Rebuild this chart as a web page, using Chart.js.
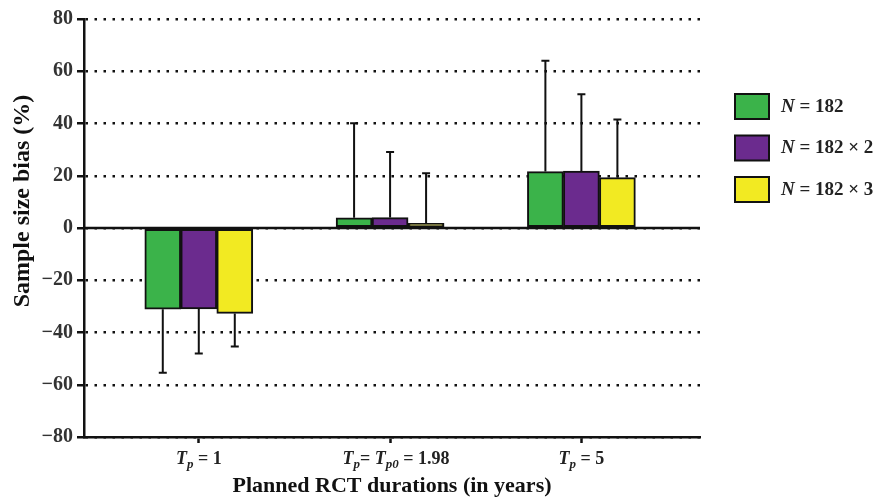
<!DOCTYPE html>
<html>
<head>
<meta charset="utf-8">
<script src="https://cdn.jsdelivr.net/npm/chart.js@4.4.0/dist/chart.umd.min.js"></script>
<style>
body { margin: 0; background: #fff; }
#wrap { width: 877px; height: 502px; }
</style>
</head>
<body>
<div id="wrap"><canvas id="myChart"></canvas></div>
<script>
// group positions on the x axis and their labels (T_p -> T with subscript p)
const groupPos = [1, 2, 3];
const groupLabels = ['T_p = 1', 'T_p= T_p0 = 1.98', 'T_p = 5'];
const seriesNames = ['N = 182', 'N = 182 × 2', 'N = 182 × 3'];
const seriesColors = ['#3bb34a', '#6b2b8e', '#f2ea22'];

// mean bias (%) per group
const meanN1 = [-31.1, 3.9, 21.6];
const meanN2 = [-31.0, 4.0, 21.8];
const meanN3 = [-32.7, 1.8, 19.3];
// one-sided error bar length
const errN1 = [24.3, 36.2, 42.4];
const errN2 = [17.0, 25.1, 29.4];
const errN3 = [12.7, 19.2, 22.2];

const yTicks = [-80, -60, -40, -20, 0, 20, 40, 60, 80];
const yTitle = 'Sample size bias (%)';

const means = [meanN1, meanN2, meanN3];
const errs = [errN1, errN2, errN3];
const FONT = "'Liberation Serif', 'Times New Roman', serif";

// draw text where "T_p" / "T_p0" / "N" get italics (and subscripts)
function drawRich(ctx, text, cx, cy, size) {
    const parts = text.split(/(T_p0|T_p|N)/).filter(s => s.length);
    const pieces = [];
    parts.forEach(p => {
        if (p === 'T_p' || p === 'T_p0') {
            pieces.push({t: 'T', font: 'italic bold ' + size + 'px ' + FONT, dy: 0});
            pieces.push({t: p.slice(2), font: 'italic bold ' + Math.round(size * 0.7) + 'px ' + FONT, dy: size * 0.3});
        } else if (p === 'N') {
            pieces.push({t: 'N', font: 'italic bold ' + size + 'px ' + FONT, dy: 0});
        } else {
            pieces.push({t: p, font: 'bold ' + size + 'px ' + FONT, dy: 0});
        }
    });
    let total = 0;
    pieces.forEach(pc => { ctx.font = pc.font; pc.w = ctx.measureText(pc.t).width; total += pc.w; });
    const x = cx === null ? 0 : cx - total / 2;
    return {draw(startX) {
        let xx = startX === undefined ? x : startX;
        ctx.textBaseline = 'middle';
        ctx.textAlign = 'left';
        pieces.forEach(pc => {
            ctx.font = pc.font;
            ctx.fillText(pc.t, xx, cy + pc.dy);
            xx += pc.w;
        });
    }};
}

const extras = {
    id: 'extras',
    afterDatasetsDraw(chart) {
        const ctx = chart.ctx;
        const ys = chart.scales.y;
        const area = chart.chartArea;
        ctx.save();
        // error bars
        ctx.strokeStyle = '#111';
        ctx.lineWidth = 2;
        chart.data.datasets.forEach((ds, di) => {
            const meta = chart.getDatasetMeta(di);
            meta.data.forEach((bar, i) => {
                const v = means[di][i];
                const sign = v < 0 ? -1 : 1;
                const yEnd = ys.getPixelForValue(v + sign * errs[di][i]);
                ctx.beginPath();
                ctx.moveTo(bar.x, bar.y);
                ctx.lineTo(bar.x, yEnd);
                ctx.moveTo(bar.x - 4, yEnd);
                ctx.lineTo(bar.x + 4, yEnd);
                ctx.stroke();
            });
        });
        // zero line
        const y0 = ys.getPixelForValue(0);
        ctx.beginPath();
        ctx.lineWidth = 2.5;
        ctx.moveTo(area.left, y0);
        ctx.lineTo(area.right, y0);
        ctx.stroke();
        ctx.restore();
    },
    afterDraw(chart) {
        const ctx = chart.ctx;
        const xs = chart.scales.x;
        ctx.save();
        ctx.fillStyle = '#222';
        groupPos.forEach((p, i) => {
            drawRich(ctx, groupLabels[i], xs.getPixelForValue(p) + (i === 1 ? 6 : 0), 459, 18).draw();
        });
        // y axis title, sits a little above the axis centre in the original
        ctx.save();
        ctx.translate(23, 201);
        ctx.rotate(-Math.PI / 2);
        ctx.fillStyle = '#111';
        ctx.font = 'bold 24px ' + FONT;
        ctx.textAlign = 'center';
        ctx.textBaseline = 'middle';
        ctx.fillText(yTitle, 0, 0);
        ctx.restore();
        // legend
        seriesNames.forEach((name, i) => {
            const cy = 106 + i * 41.5;
            ctx.fillStyle = seriesColors[i];
            ctx.fillRect(735, cy - 12, 34, 25);
            ctx.strokeStyle = '#111';
            ctx.lineWidth = 2;
            ctx.strokeRect(735, cy - 12, 34, 25);
            ctx.fillStyle = '#222';
            drawRich(ctx, name, null, cy + 1, 19).draw(781);
        });
        ctx.restore();
    }
};

const datasets = seriesNames.map((name, i) => ({
    label: name,
    data: groupPos.map((p, j) => ({x: p, y: means[i][j]})),
    backgroundColor: seriesColors[i],
    borderColor: '#111',
    borderWidth: 2,
    borderSkipped: false,
    barThickness: 36
}));

new Chart(document.getElementById('myChart'), {
    type: 'bar',
    data: { datasets: datasets },
    plugins: [extras],
    options: {
        responsive: true,
        maintainAspectRatio: false,
        animation: false,
        layout: { padding: { left: 14, right: 177, top: 19, bottom: 0 } },
        plugins: {
            legend: { display: false },
            tooltip: { enabled: false }
        },
        scales: {
            x: {
                type: 'linear',
                min: 0.4,
                max: 3.62,
                offset: false,
                afterFit(scale) { scale.height = 65; },
                afterBuildTicks(scale) { scale.ticks = groupPos.map(v => ({value: v})); },
                ticks: { display: true, callback: () => '', padding: 0 },
                grid: {
                    offset: false,
                    drawOnChartArea: false,
                    drawTicks: true,
                    tickLength: 6,
                    tickColor: '#111',
                    tickWidth: 2.5
                },
                border: { display: true, color: '#111', width: 2.5 },
                title: {
                    display: true,
                    text: 'Planned RCT durations (in years)',
                    color: '#111',
                    font: { family: FONT, size: 22, weight: 'bold' },
                    padding: { top: 0, bottom: 2 }
                }
            },
            y: {
                min: -80,
                max: 80,
                afterFit(scale) { scale.width = 70; },
                afterBuildTicks(scale) { scale.ticks = yTicks.map(v => ({value: v})); },
                ticks: {
                    color: '#333',
                    padding: 4,
                    font: { family: FONT, size: 20, weight: 'bold' },
                    callback: v => String(v).replace('-', '\u2212')
                },
                grid: {
                    color: '#111',
                    lineWidth: 2.5,
                    drawTicks: true,
                    tickLength: 7,
                    tickColor: '#111',
                    tickWidth: 2.5,
                    tickBorderDash: []
                },
                border: { display: true, color: '#111', width: 2.5, dash: [2.5, 6.5] },
                title: { display: false }
            }
        }
    }
});
</script>
</body>
</html>
